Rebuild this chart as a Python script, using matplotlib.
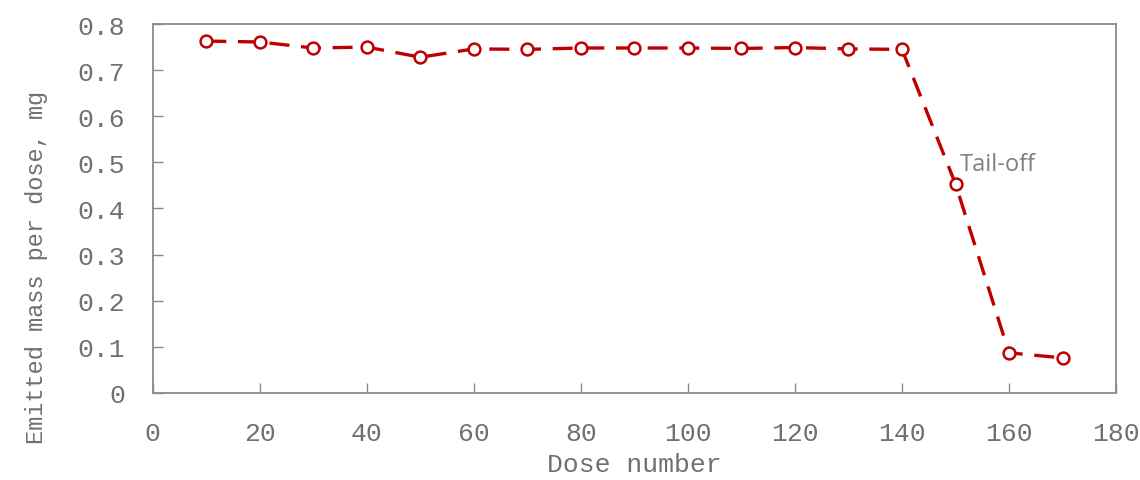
import matplotlib
matplotlib.use("Agg")
import matplotlib.pyplot as plt

# dose number vs emitted mass per dose (mg)
dose_number = [10, 20, 30, 40, 50, 60, 70, 80, 90, 100, 110, 120, 130, 140, 150, 160, 170]
emitted_mass = [0.763, 0.761, 0.748, 0.750, 0.728, 0.746, 0.745, 0.748, 0.748, 0.748,
                0.747, 0.749, 0.746, 0.745, 0.453, 0.087, 0.076]

x_ticks = [0, 20, 40, 60, 80, 100, 120, 140, 160, 180]
y_ticks = [0, 0.1, 0.2, 0.3, 0.4, 0.5, 0.6, 0.7, 0.8]

gray = "#8a8a8a"
text_gray = "#707070"
red = "#C00000"

fig = plt.figure(figsize=(11.4, 4.81), dpi=100)
ax = fig.add_axes([0.134, 0.181, 0.845, 0.767])

ax.plot(dose_number, emitted_mass, color=red, lw=2.4, dashes=(6, 3.5),
        marker="o", markersize=8.5, markerfacecolor="white",
        markeredgecolor=red, markeredgewidth=1.8, zorder=3)

ax.set_xlim(0, 180)
ax.set_ylim(0, 0.8)
ax.set_xticks(x_ticks)
ax.set_yticks(y_ticks)
ax.set_xticklabels([str(t) for t in x_ticks])
ax.set_yticklabels(["0" if t == 0 else f"{t:.1f}" for t in y_ticks])

for side in ax.spines.values():
    side.set_color(gray)
    side.set_linewidth(1.3)

ax.tick_params(direction="in", length=7, color=gray, width=1,
               labelcolor=text_gray, labelsize=19)
ax.tick_params(axis="x", pad=20)
ax.tick_params(axis="y", pad=20)
for lab in ax.get_xticklabels() + ax.get_yticklabels():
    lab.set_family("Liberation Mono")

ax.set_xlabel("Dose number", fontsize=19, color=text_gray, family="Liberation Mono", labelpad=5)
ax.set_ylabel("Emitted mass per dose, mg", fontsize=17, color=text_gray,
              family="Liberation Mono")
# label sits lower than the axis centre in the original
ax.yaxis.set_label_coords(-0.109, 0.344)

ax.text(150.8, 0.497, "Tail-off", fontsize=17, color="#808080", family="Open Sans",
        ha="left", va="center")

fig.savefig("out.png", dpi=100)
